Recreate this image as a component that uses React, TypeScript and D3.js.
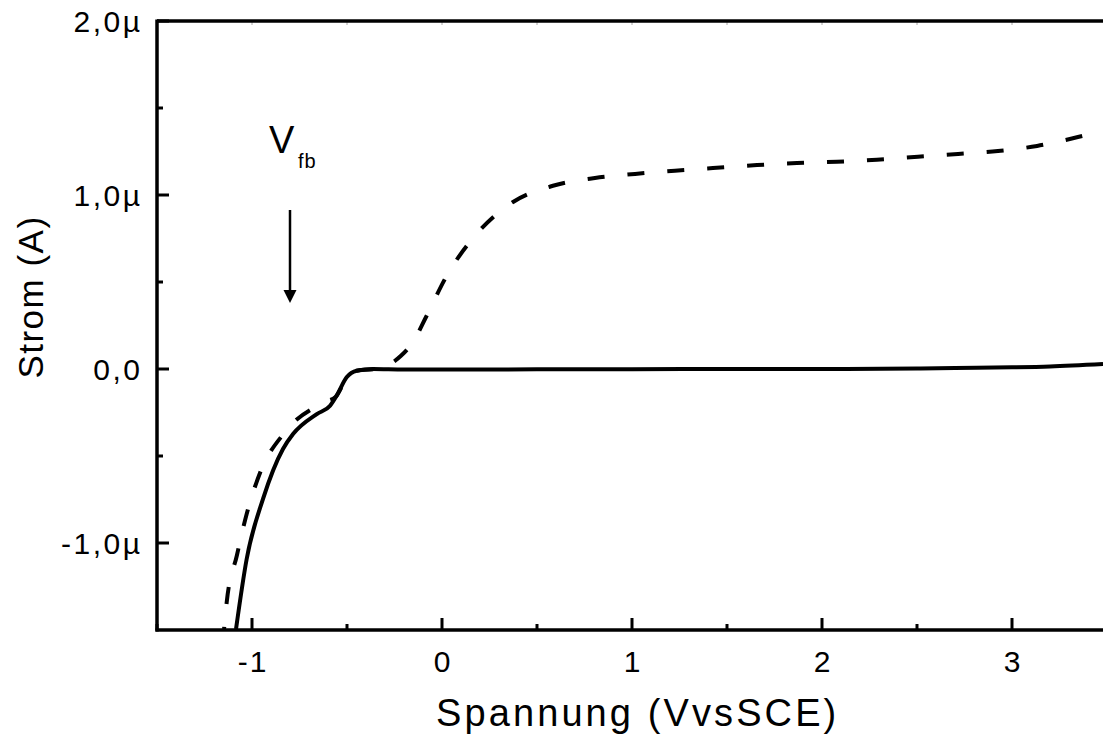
import React from "react";
import * as d3 from "d3";

const xTicks = [-1, 0, 1, 2, 3];
const xMinorTicks = [-1.5, -0.5, 0.5, 1.5, 2.5, 3.5];
const yTicks = [-1.0, 0.0, 1.0, 2.0];
const yTickLabels = ["-1,0µ", "0,0", "1,0µ", "2,0µ"];
const yMinorTicks = [-0.5, 0.5, 1.5];

// Solid curve (V vs µA)
const solidV = [-1.084, -1.028, -0.942, -0.837, -0.784, -0.659, -0.589, -0.554, -0.502, -0.449, -0.363, -0.2, 0.5, 1.0, 1.5, 2.0, 2.5, 2.7, 3.0, 3.2, 3.479];
const solidI = [-1.494, -1.092, -0.747, -0.46, -0.374, -0.259, -0.211, -0.153, -0.048, -0.01, 0.0, -0.003, -0.002, -0.001, 0.0, 0.0, 0.003, 0.006, 0.01, 0.015, 0.029];

// Dashed curve (V vs µA)
const dashV = [-1.147, -1.133, -1.08, -1.028, -0.958, -0.826, -0.616, -0.56, -0.5, -0.45, -0.353, -0.3, -0.216, -0.15, -0.084, 0.025, 0.174, 0.374, 0.584, 0.805, 1.016, 1.226, 1.426, 1.658, 1.868, 2.079, 2.289, 2.505, 2.716, 2.926, 3.132, 3.347, 3.479];
const dashI = [-1.494, -1.339, -1.073, -0.833, -0.598, -0.362, -0.19, -0.16, -0.05, -0.01, 0.0, 0.015, 0.076, 0.16, 0.299, 0.536, 0.766, 0.96, 1.053, 1.098, 1.121, 1.14, 1.155, 1.172, 1.184, 1.191, 1.203, 1.22, 1.236, 1.253, 1.282, 1.333, 1.368];

const W = 1103;
const H = 736;
const L = 157;
const B = 630;
const T = 21;

export default function App() {
  const x = d3.scaleLinear().domain([-1.5, 3.5]).range([L, L + 950]);
  const y = d3.scaleLinear().domain([-1.5, 2.0]).range([B, T]);

  const line = d3
    .line<[number, number]>()
    .x((d) => x(d[0]))
    .y((d) => y(d[1]))
    .curve(d3.curveMonotoneX);

  const solid = solidV.map((v, i) => [v, solidI[i]] as [number, number]);
  const dashed = dashV.map((v, i) => [v, dashI[i]] as [number, number]);

  const font = "'Liberation Sans', Arial, sans-serif";

  return (
    <svg
      width={W}
      height={H}
      style={{ position: "absolute", left: 0, top: 0, background: "#fff" }}
    >
      <defs>
        <clipPath id="plot">
          <rect x={L} y={T} width={W - L} height={B - T} />
        </clipPath>
      </defs>
      <rect x={0} y={0} width={W} height={H} fill="#fff" />

      {/* curves */}
      <g clipPath="url(#plot)" fill="none" stroke="#000" strokeLinejoin="round">
        <path d={line(dashed) || ""} strokeWidth={4} strokeDasharray="17,23" strokeDashoffset={15} />
        <path d={line(solid) || ""} strokeWidth={4} />
      </g>

      {/* faint top ticks */}
      {[...xTicks, ...xMinorTicks].map((t) => (
        <line key={"tt" + t} x1={x(t)} x2={x(t)} y1={T} y2={T + 4} stroke="#aaa" strokeWidth={1} />
      ))}

      {/* axes */}
      <line x1={L} x2={W} y1={T} y2={T} stroke="#000" strokeWidth={3.5} />
      <line x1={L} x2={L} y1={T - 1.5} y2={B + 1.5} stroke="#000" strokeWidth={3.5} />
      <line x1={L - 1.5} x2={W} y1={B} y2={B} stroke="#000" strokeWidth={3.5} />

      {/* x ticks */}
      {xTicks.map((t) => (
        <line key={"xt" + t} x1={x(t)} x2={x(t)} y1={B} y2={B - 12} stroke="#000" strokeWidth={3} />
      ))}
      {xMinorTicks.map((t) => (
        <line key={"xm" + t} x1={x(t)} x2={x(t)} y1={B} y2={B - 6} stroke="#000" strokeWidth={3} />
      ))}
      {xTicks.map((t) => (
        <text
          key={"xl" + t}
          x={x(t) + 1}
          y={672}
          textAnchor="middle"
          fontFamily={font}
          fontSize={30}
          letterSpacing={2}
          fill="#000"
        >
          {t}
        </text>
      ))}

      {/* y ticks */}
      {yTicks.map((t) => (
        <line key={"yt" + t} x1={L} x2={L + 12} y1={y(t)} y2={y(t)} stroke="#000" strokeWidth={3} />
      ))}
      {yMinorTicks.map((t) => (
        <line key={"ym" + t} x1={L} x2={L + 6} y1={y(t)} y2={y(t)} stroke="#000" strokeWidth={3} />
      ))}
      {yTicks.map((t, i) => (
        <text
          key={"yl" + t}
          x={142.5}
          y={y(t) + 11}
          textAnchor="end"
          fontFamily={font}
          fontSize={30}
          letterSpacing={2.5}
          fill="#000"
        >
          {yTickLabels[i]}
        </text>
      ))}

      {/* axis titles */}
      <text
        x={436}
        y={726}
        fontFamily={font}
        fontSize={38}
        letterSpacing={3.1}
        fill="#000"
      >
        Spannung (VvsSCE)
      </text>
      <text
        transform="translate(43,297) rotate(-90)"
        textAnchor="middle"
        fontFamily={font}
        fontSize={35}
        letterSpacing={1.5}
        fill="#000"
      >
        Strom (A)
      </text>

      {/* V_fb annotation */}
      <text x={269} y={153} fontFamily={font} fontSize={38} fill="#000">
        V
      </text>
      <text x={298} y={168} fontFamily={font} fontSize={20} letterSpacing={1} fill="#000">
        fb
      </text>
      <line x1={290} x2={290} y1={210} y2={292} stroke="#000" strokeWidth={2.5} />
      <polygon points="283.5,290 296.5,290 290,303" fill="#000" />
    </svg>
  );
}
